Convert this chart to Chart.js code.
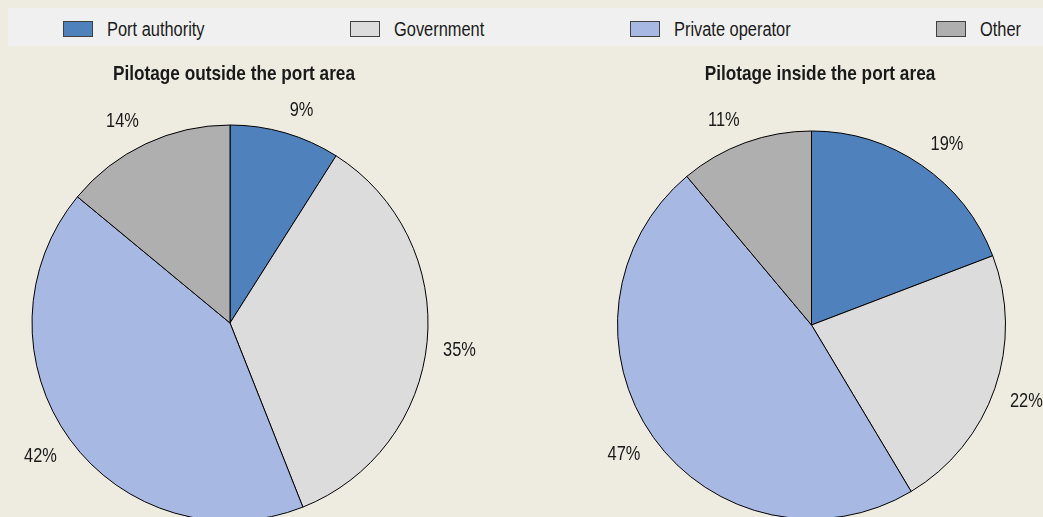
<!DOCTYPE html>
<html>
<head>
<meta charset="utf-8">
<script src="https://cdn.jsdelivr.net/npm/chart.js@4"></script>
<style>
    html, body {
        margin: 0;
        padding: 0;
        width: 1043px;
        height: 517px;
        overflow: hidden;
        background: #eeebe1;
        font-family: "Liberation Sans", Arial, sans-serif;
        color: #1a1a1a;
    }
    #legend {
        position: absolute;
        left: 8px;
        top: 8px;
        right: 0;
        height: 38px;
        background: #f0f0f0;
        display: flex;
        justify-content: space-between;
        align-items: center;
        box-sizing: border-box;
        padding: 4px 22px 0 55px;
        font-size: 20px;
    }
    .legend-item {
        display: flex;
        align-items: center;
        white-space: nowrap;
    }
    .legend-box {
        width: 28px;
        height: 14px;
        border: 1px solid #404040;
        margin-right: 14px;
    }
    .narrow-wrap {
        display: inline-block;
        overflow: visible;
        white-space: nowrap;
    }
    .narrow {
        display: inline-block;
        transform: scaleX(0.82);
        transform-origin: left center;
    }
    .title {
        position: absolute;
        top: 61px;
        width: 400px;
        margin-left: -200px;
        text-align: center;
        font-weight: bold;
        font-size: 21px;
        transform: scaleX(0.82);
        transform-origin: center;
        z-index: 2;
    }
    .chart-box {
        position: absolute;
    }
</style>
</head>
<body>
<div id="legend"></div>
<div class="title" id="titleLeft" style="left: 234px;"></div>
<div class="title" id="titleRight" style="left: 820px;"></div>
<div class="chart-box" style="left: -30px; top: 60px; width: 520px; height: 526px;">
    <canvas id="outsideChart"></canvas>
</div>
<div class="chart-box" style="left: 551px; top: 64px; width: 521px; height: 522px;">
    <canvas id="insideChart"></canvas>
</div>
<script>
// Data
const categories = ['Port authority', 'Government', 'Private operator', 'Other'];
const outsideShares = [9, 35, 42, 14];
const insideShares = [19, 22, 47, 11];
const chartTitles = ['Pilotage outside the port area', 'Pilotage inside the port area'];

// Colours
const sliceColors = ['#4f81bd', '#dcdcdc', '#a7b8e3', '#afafaf'];

// Narrow text: no condensed face installed, so squeeze the regular one
const NARROW = 0.82;
const labelFont = '20px "Liberation Sans", Arial, sans-serif';

// Legend
const legendEl = document.getElementById('legend');
categories.forEach((name, i) => {
    const item = document.createElement('div');
    item.className = 'legend-item';
    item.innerHTML = `<span class="legend-box" style="background:${sliceColors[i]}"></span>` +
        `<span class="narrow-wrap"><span class="narrow">${name}</span></span>`;
    legendEl.appendChild(item);
});
document.querySelectorAll('.narrow-wrap').forEach(wrap => {
    const inner = wrap.firstChild;
    wrap.style.width = (inner.offsetWidth * NARROW) + 'px';
});

document.getElementById('titleLeft').textContent = chartTitles[0];
document.getElementById('titleRight').textContent = chartTitles[1];

// Percentage labels outside each slice, box pushed clear of the rim
const outsideLabels = {
    id: 'outsideLabels',
    afterDatasetsDraw(chart, args, opts) {
        const ctx = chart.ctx;
        const meta = chart.getDatasetMeta(0);
        const values = chart.data.datasets[0].data;
        ctx.save();
        ctx.font = labelFont;
        ctx.fillStyle = '#1a1a1a';
        ctx.textAlign = 'center';
        ctx.textBaseline = 'middle';
        meta.data.forEach((arc, i) => {
            const { x, y, startAngle, endAngle, outerRadius } = arc.getProps(['x', 'y', 'startAngle', 'endAngle', 'outerRadius'], true);
            const text = values[i] + '%';
            const halfW = ctx.measureText(text).width * NARROW / 2;
            const halfH = 7.5;
            const mid = (startAngle + endAngle) / 2;
            const cos = Math.cos(mid);
            const sin = Math.sin(mid);
            const dist = outerRadius + opts.gap;
            const lx = x + cos * dist + Math.sign(cos) * halfW;
            const ly = y + sin * dist + Math.sign(sin) * halfH;
            ctx.save();
            ctx.translate(lx, ly);
            ctx.scale(NARROW, 1);
            ctx.fillText(text, 0, 0);
            ctx.restore();
        });
        ctx.restore();
    }
};

function makePie(canvasId, values, radius) {
    return new Chart(document.getElementById(canvasId), {
        type: 'pie',
        data: {
            labels: categories,
            datasets: [{
                data: values,
                backgroundColor: sliceColors,
                borderColor: '#000000',
                borderWidth: 1,
                hoverOffset: 0,
                offset: 0
            }]
        },
        options: {
            responsive: true,
            maintainAspectRatio: false,
            animation: false,
            radius: radius,
            layout: { padding: 0 },
            events: [],
            plugins: {
                legend: { display: false },
                tooltip: { enabled: false },
                title: { display: false },
                outsideLabels: { gap: 16 }
            }
        },
        plugins: [outsideLabels]
    });
}

makePie('outsideChart', outsideShares, 198);
makePie('insideChart', insideShares, 194);
</script>
</body>
</html>
